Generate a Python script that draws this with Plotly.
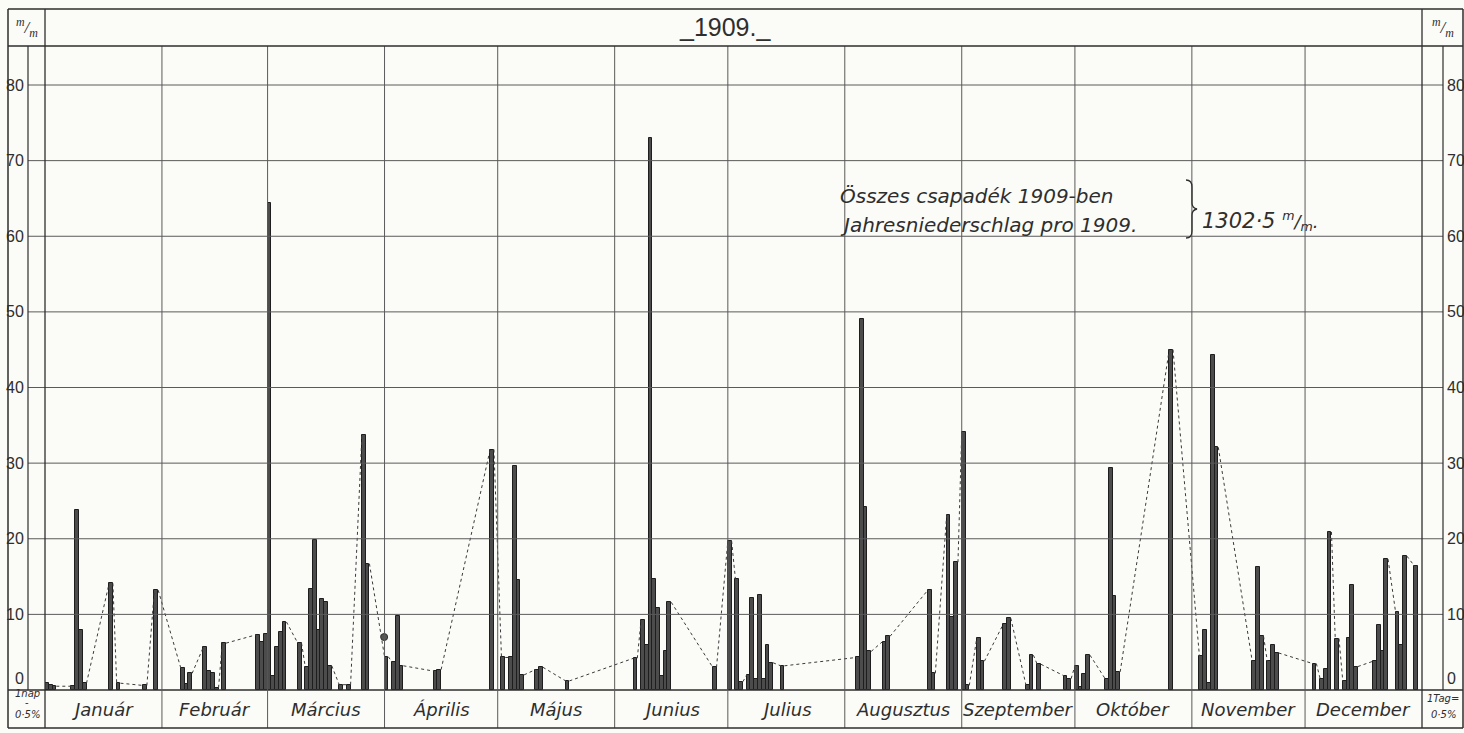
import plotly.graph_objects as go

# ---------------- data ----------------
MONTHS = ["Január", "Február", "Március", "Április", "Május", "Junius",
          "Julius", "Augusztus", "Szeptember", "Október", "November", "December"]
MONTH_DAYS = [31, 28, 31, 30, 31, 30, 31, 31, 30, 31, 30, 31]

# day of the year of each wet day
DAY_OF_YEAR = [
    1, 2, 3, 8, 9, 10, 11, 18, 20, 27, 30,                                   # Jan
    37, 38, 39, 43, 44, 45, 46, 48, 57, 58, 59,                              # Feb
    60, 61, 62, 63, 64, 68, 70, 71, 72, 73, 74, 75, 76, 79, 81, 85, 86,      # Mar
    91, 93, 94, 95, 104, 105, 119,                                           # Apr
    122, 124, 125, 126, 127, 131, 132, 139,                                  # May
    157, 159, 160, 161, 162, 163, 164, 165, 166, 178,                        # Jun
    182, 184, 185, 187, 188, 189, 190, 191, 192, 193, 196,                   # Jul
    216, 217, 218, 219, 223, 224, 235, 236, 240, 241, 242,                   # Aug
    244, 245, 248, 249, 255, 256, 261, 262, 264, 271, 272,                   # Sep
    274, 275, 276, 277, 282, 283, 284, 285, 299,                             # Oct
    307, 308, 309, 310, 311, 321, 322, 323, 325, 326, 327,                   # Nov
    337, 339, 340, 341, 343, 345, 346, 347, 348, 353, 354, 355, 356,
    359, 360, 361, 364,                                                      # Dec
]
# precipitation of that day, mm
PRECIP_MM = [
    0.9, 0.7, 0.5, 0.5, 23.8, 8.0, 0.9, 14.1, 0.9, 0.6, 13.2,
    2.9, 0.8, 2.2, 5.7, 2.5, 2.3, 0.3, 6.2, 7.3, 6.3, 7.4,
    64.4, 1.8, 5.7, 7.7, 9.0, 6.2, 3.0, 13.4, 19.8, 8.0, 12.0, 11.7, 3.2, 0.7, 0.7, 33.7, 16.7,
    4.4, 3.7, 9.8, 3.2, 2.5, 2.7, 31.8,
    4.3, 4.3, 29.6, 14.6, 2.0, 2.7, 3.0, 1.2,
    4.2, 9.2, 6.0, 73.0, 14.7, 10.9, 1.8, 5.2, 11.6, 3.0,
    19.7, 14.7, 1.1, 2.0, 12.2, 1.5, 12.6, 1.5, 6.0, 3.6, 3.2,
    4.3, 49.0, 24.2, 5.1, 6.4, 7.1, 13.2, 2.2, 23.1, 9.7, 16.9,
    34.1, 0.6, 6.9, 3.8, 8.7, 9.5, 0.7, 4.6, 3.4, 1.9, 1.5,
    3.2, 0.4, 2.1, 4.6, 1.5, 29.3, 12.4, 2.4, 45.0,
    4.5, 8.0, 0.9, 44.3, 32.1, 3.8, 16.2, 7.1, 3.8, 6.0, 4.9,
    3.5, 1.5, 2.8, 20.9, 6.8, 1.2, 6.9, 13.9, 3.1, 3.8, 8.6, 5.1, 17.3,
    10.3, 6.0, 17.7, 16.4,
]
BLOT_DAY = [90.4]     # ink dot on the connecting line at the end of March
BLOT_MM = [7.0]

Y_TICKS = [0, 10, 20, 30, 40, 50, 60, 70, 80]
TITLE = "_1909._"
NOTE_HU = "Összes csapadék 1909-ben"
NOTE_DE = "Jahresniederschlag pro 1909."
TOTAL = "1302·5"

# ---------------- geometry ----------------
W, H = 1464, 733
L, R, T, B = 45, 42, 46, 43
PW, PH = W - L - R, H - T - B
N_DAYS = sum(MONTH_DAYS)
XR = [0.5, N_DAYS + 0.5]
PX_PER_MM = 605 / 80.0
YR = [0, PH / PX_PER_MM]


def fx(px):   # figure pixel -> paper x
    return (px - L) / PW


def fy(py):   # figure pixel -> paper y
    return (H - B - py) / PH


def xd(d):    # data x -> paper x
    return (d - XR[0]) / (XR[1] - XR[0])


def yd(v):    # data y -> paper y
    return (v - YR[0]) / (YR[1] - YR[0])


INK = "#2e2e2e"
GRID = "#5a5a5a"
PAPER = "#fbfbf8"

# ---------------- connecting dashed line between rain spells ----------------
pairs = sorted(zip(DAY_OF_YEAR, PRECIP_MM))
runs = []
for d, v in pairs:
    if runs and d == runs[-1][-1][0] + 1:
        runs[-1].append((d, v))
    else:
        runs.append([(d, v)])
cx, cy = [], []
for a, b in zip(runs[:-1], runs[1:]):
    (d0, v0), (d1, v1) = a[-1], b[0]
    cx += [d0 + 0.5, d1 - 0.5, None]
    cy += [v0, v1, None]

fig = go.Figure()
fig.add_trace(go.Scatter(x=cx, y=cy, mode="lines",
                         line=dict(color="#3a3a3a", width=1, dash="3px,3px"),
                         hoverinfo="skip"))
fig.add_trace(go.Bar(x=DAY_OF_YEAR, y=PRECIP_MM, width=[1.0] * len(DAY_OF_YEAR),
                     marker=dict(color="#4c4c4c", line=dict(color="#1e1e1e", width=1))))
fig.add_trace(go.Scatter(x=BLOT_DAY, y=BLOT_MM, mode="markers",
                         marker=dict(color="#555", size=7, line=dict(color="#333", width=1)),
                         hoverinfo="skip"))

shapes = []


def line(x0, y0, x1, y1, color=INK, width=1.2):
    shapes.append(dict(type="line", xref="paper", yref="paper", x0=x0, y0=y0, x1=x1, y1=y1,
                       line=dict(color=color, width=width), layer="above"))


# horizontal grid lines incl. ticks in the side columns
for v in Y_TICKS[1:]:
    line(fx(28), yd(v), fx(1443), yd(v), GRID, 1)
# zero line across full width
line(fx(8), yd(0), fx(1463), yd(0), INK, 1.3)
# month dividers
cum = 0
bounds = []
for n in MONTH_DAYS:
    bounds.append(cum)
    cum += n
for c in bounds[1:]:
    line(xd(c + 0.5), fy(728), xd(c + 0.5), fy(46), GRID, 1)
# frame
line(fx(8), fy(9), fx(1463), fy(9), INK, 1.5)
line(fx(8), fy(728), fx(1463), fy(728), INK, 1.5)
line(fx(8), fy(9), fx(8), fy(728), INK, 1.5)
line(fx(1463), fy(9), fx(1463), fy(728), INK, 1.5)
line(fx(8), fy(46), fx(1463), fy(46), INK, 1.3)
line(fx(45), fy(9), fx(45), fy(728), INK, 1.3)
line(fx(1422), fy(9), fx(1422), fy(728), INK, 1.3)
line(fx(28), fy(46), fx(28), yd(0), INK, 1.2)
line(fx(1443), fy(46), fx(1443), yd(0), INK, 1.2)

# curly bracket of the note
brace = (f"M {fx(1186)},{fy(180)} Q {fx(1192)},{fy(180)} {fx(1192)},{fy(187)} "
         f"L {fx(1192)},{fy(203)} Q {fx(1192)},{fy(208)} {fx(1197)},{fy(209)} "
         f"Q {fx(1192)},{fy(210)} {fx(1192)},{fy(215)} L {fx(1192)},{fy(231)} "
         f"Q {fx(1192)},{fy(238)} {fx(1186)},{fy(238)}")
shapes.append(dict(type="path", xref="paper", yref="paper", path=brace,
                   line=dict(color=INK, width=1.3)))

ann = []
NUMFONT = "Liberation Sans Narrow, Liberation Sans, Arial, sans-serif"
HAND = "DejaVu Sans, Liberation Sans, sans-serif"


def text(xp, yp, s, font, xanchor="center", yanchor="middle", **kw):
    ann.append(dict(x=xp, y=yp, xref="paper", yref="paper", text=s, showarrow=False,
                    xanchor=xanchor, yanchor=yanchor, font=font, **kw))


numf = dict(family=NUMFONT, size=16, color=INK)
for v in Y_TICKS:
    kw = dict(yanchor="bottom", yshift=1) if v == 0 else dict(yanchor="middle")
    text(fx(26), yd(v), str(v), numf, xanchor="right", **kw)
    text(fx(1445), yd(v), str(v), numf, xanchor="left", **kw)

text(fx(725), fy(27), TITLE, dict(family="Liberation Sans, Arial, sans-serif", size=25, color=INK))
for xpx in (26.5, 1443):
    text(fx(xpx), fy(27), "<i><sup>m</sup>/<sub>m</sub></i>",
         dict(family="Liberation Serif, serif", size=17, color=INK))

for name, start, n in zip(MONTHS, bounds, MONTH_DAYS):
    text(xd(start + n / 2 + 0.5), fy(709), f"<i>{name}</i>",
         dict(family=HAND, size=18, color=INK))

small = dict(family=HAND, size=10, color=INK)
text(fx(27), fy(694), "<i>1nap</i>", small)
text(fx(27), fy(703), "-", small)
text(fx(27), fy(714), "<i>0·5%</i>", small)
text(fx(1443), fy(698), "<i>1Tag=</i>", small)
text(fx(1443), fy(714), "<i>0·5%</i>", small)

note_font = dict(family=HAND, size=20, color=INK)
text(fx(838), fy(196), f"<i>{NOTE_HU}</i>", note_font, xanchor="left")
text(fx(838), fy(225), f"<i>{NOTE_DE}</i>", note_font, xanchor="left")
text(fx(1200), fy(221),
     f"<i>{TOTAL} <span style='font-size:18px'><sup>m</sup>/<sub>m</sub>.</span></i>",
     dict(family=HAND, size=21, color=INK), xanchor="left")

fig.update_layout(
    width=W, height=H,
    margin=dict(l=L, r=R, t=T, b=B),
    paper_bgcolor=PAPER, plot_bgcolor=PAPER,
    showlegend=False,
    xaxis=dict(range=XR, showgrid=False, zeroline=False, showticklabels=False,
               ticks="", showline=False, fixedrange=True),
    yaxis=dict(range=YR, showgrid=False, zeroline=False, showticklabels=False,
               ticks="", showline=False, fixedrange=True),
    shapes=shapes,
    annotations=ann,
    bargap=0,
)

fig.write_html("out.html",
               config={"displayModeBar": False},
               post_script="document.body.style.margin='0';"
                           "document.body.style.overflow='hidden';"
                           "document.body.style.background='#fbfbf8';")
